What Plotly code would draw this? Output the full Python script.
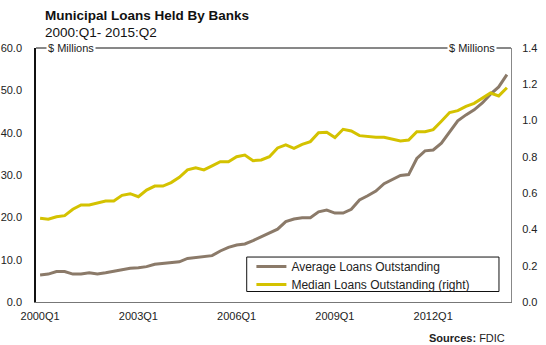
import plotly.graph_objects as go

# Quarterly category labels, 2000Q1 onward
quarters = [f"{y}Q{q}" for y in range(2000, 2015) for q in range(1, 5)][:58]
tick_labels = ["2000Q1", "2003Q1", "2006Q1", "2009Q1", "2012Q1"]

# Average loans outstanding ($ millions, left axis)
average_loans = [
    6.4, 6.6, 7.2, 7.2, 6.6, 6.6, 6.9, 6.6, 6.9, 7.3,
    7.7, 7.95, 8.1, 8.35, 8.9, 9.1, 9.4, 9.5, 10.3, 10.55,
    10.7, 10.95, 12.05, 12.9, 13.45, 13.7, 14.5, 15.4, 16.4, 17.2,
    19.0, 19.6, 19.9, 19.9, 21.3, 21.7, 21.0, 21.0, 21.9, 24.1,
    25.1, 26.2, 27.95, 29.0, 29.9, 30.1, 33.9, 35.7, 35.9, 37.5,
    40.1, 42.8, 44.2, 45.4, 47.0, 49.1, 50.8, 53.7,
]

# Median loans outstanding ($ millions, right axis)
median_loans = [
    0.461, 0.456, 0.470, 0.476, 0.511, 0.535, 0.535, 0.547, 0.557, 0.557,
    0.588, 0.597, 0.580, 0.617, 0.639, 0.639, 0.658, 0.687, 0.728, 0.740,
    0.728, 0.750, 0.773, 0.773, 0.801, 0.810, 0.779, 0.783, 0.801, 0.849,
    0.866, 0.847, 0.869, 0.884, 0.933, 0.935, 0.906, 0.952, 0.943, 0.917,
    0.911, 0.908, 0.908, 0.899, 0.888, 0.893, 0.939, 0.939, 0.950, 0.996,
    1.044, 1.055, 1.078, 1.095, 1.123, 1.152, 1.136, 1.181,
]

BROWN = "#8B7A69"
YELLOW = "#D4C200"
FONT = "Arial, Liberation Sans, sans-serif"
TEXT = "#222222"

fig = go.Figure()
fig.add_trace(go.Scatter(
    x=quarters, y=average_loans, name="Average Loans Outstanding",
    mode="lines", line=dict(color=BROWN, width=3), yaxis="y", legend="legend",
))
fig.add_trace(go.Scatter(
    x=quarters, y=median_loans, name="Median Loans Outstanding (right)",
    mode="lines", line=dict(color=YELLOW, width=3), yaxis="y2", legend="legend2",
))

legend_style = dict(
    xanchor="left", yanchor="top",
    bgcolor="rgba(0,0,0,0)", borderwidth=0,
    font=dict(family=FONT, size=12, color=TEXT),
    itemwidth=30,
)

fig.update_layout(
    width=546, height=345,
    margin=dict(l=36, r=35, t=48, b=43, pad=0),
    paper_bgcolor="white", plot_bgcolor="white",
    font=dict(family=FONT, size=11, color=TEXT),
    showlegend=True,
    legend=dict(x=0.4535, y=0.197, **legend_style),
    legend2=dict(x=0.4535, y=0.126, **legend_style),
    xaxis=dict(
        type="category", tickmode="array", tickvals=tick_labels,
        ticktext=tick_labels, range=[-0.5, len(quarters) - 0.5],
        showgrid=False, zeroline=False, ticks="", automargin=False,
        showline=True, linecolor="#777777", linewidth=1,
        ticklabelstandoff=4,
    ),
    yaxis=dict(
        range=[0, 60], dtick=10, tickformat=".1f",
        showgrid=False, zeroline=False, ticks="", automargin=False,
        showline=True, linecolor="#111111", linewidth=1.5,
        ticklabelstandoff=10,
    ),
    yaxis2=dict(
        range=[0, 1.4], dtick=0.2, tickformat=".1f",
        overlaying="y", side="right",
        showgrid=False, zeroline=False, ticks="", automargin=False,
        showline=True, linecolor="#888888", linewidth=1,
        ticklabelstandoff=8,
    ),
    shapes=[
        # frame line along the top of the plot area
        dict(type="line", xref="paper", yref="paper", x0=0, x1=1, y0=1, y1=1,
             line=dict(color="#111111", width=1)),
        # legend box
        dict(type="rect", xref="paper", yref="paper",
             x0=0.4436, x1=0.9747, y0=0.0413, y1=0.177,
             line=dict(color="#111111", width=1), fillcolor="white", layer="below"),
    ],
    annotations=[
        dict(text="<b>Municipal Loans Held By Banks</b>", xref="paper", yref="paper",
             x=0.0137, y=1.128, xanchor="left", yanchor="middle", showarrow=False,
             font=dict(family=FONT, size=13.5, color="#111111")),
        dict(text="2000:Q1- 2015:Q2", xref="paper", yref="paper",
             x=0.0137, y=1.061, xanchor="left", yanchor="middle", showarrow=False,
             font=dict(family=FONT, size=13.5, color="#111111")),
        dict(text="$ Millions", xref="paper", yref="paper",
             x=0.02, y=1.0, xanchor="left", yanchor="middle", showarrow=False,
             bgcolor="white", borderpad=1,
             font=dict(family=FONT, size=11, color=TEXT)),
        dict(text="$ Millions", xref="paper", yref="paper",
             x=0.97, y=1.0, xanchor="right", yanchor="middle", showarrow=False,
             bgcolor="white", borderpad=1,
             font=dict(family=FONT, size=11, color=TEXT)),
        dict(text="<b>Sources:</b> FDIC", xref="paper", yref="paper",
             x=0.9916, y=-0.143, xanchor="right", yanchor="middle", showarrow=False,
             font=dict(family=FONT, size=11, color=TEXT)),
    ],
)

fig.write_html("out.html")
